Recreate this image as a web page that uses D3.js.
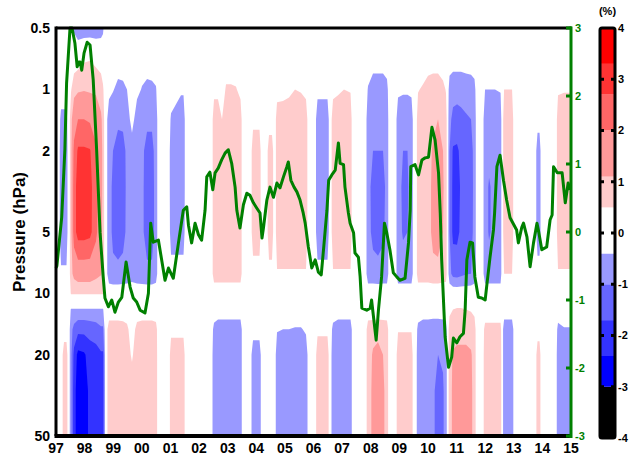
<!DOCTYPE html>
<html><head><meta charset="utf-8">
<script src="https://cdn.jsdelivr.net/npm/d3@7"></script>
<style>
body{margin:0;background:#fff}
svg{display:block}
text{font-family:"Liberation Sans",Arial,Helvetica,sans-serif;font-weight:bold}
</style>
</head><body>
<svg id="chart" width="631" height="459"></svg>
<script>
// ---------------- DATA ----------------
const yearTicks = [1997,1998,1999,2000,2001,2002,2003,2004,2005,2006,2007,2008,2009,2010,2011,2012,2013,2014,2015];
const yearLabels = ["97","98","99","00","01","02","03","04","05","06","07","08","09","10","11","12","13","14","15"];
const pressureTicks = [0.5,1,2,5,10,20,50];
const anomalyTicks = [-3,-2,-1,0,1,2,3];
const colorbarTicks = [-4,-3,-2,-1,0,1,2,3,4];

const posThresholds = [0.5,1.1,2.0,2.7,3.3];
const posColors = ["#ffcccc","#ff9999","#ff6666","#ff3333","#ff0000"];
const negThresholds = [-0.4,-1.0,-1.7,-2.4,-3.0];
const negColors = ["#9999ff","#6666ff","#3333ff","#0000ff","#000000"];

// pressure levels (hPa) of the field rows
const levels = [0.5,0.7,1,1.4,2,3,5,8,10,12,15,20,30,50];

// field columns: [time (year), values at each level (%)]
const fieldColumns = [
 [1997.000,[0,0,0,0,0,0,0,0,0,0,0,0,0,0]],
 [1997.087,[0,0,0,0,0,0,0,0,0,0,0,0,0,0]],
 [1997.175,[0,0,0,-0.6,-0.8,-0.8,-0.8,-0.3,0,0,0,0,0,0]],
 [1997.280,[0,0,0,-0.6,-0.8,-0.8,-0.8,-0.3,0,0,0.1,0.9,0.9,0.9]],
 [1997.367,[0,0,0,-0.6,-0.8,-0.8,-0.8,-0.3,0,0,0.1,0.9,0.9,0.9]],
 [1997.437,[0,0,0,0,0,0,0,0,0,0,0,0,0,0]],
 [1997.524,[0,0,0.45,0.9,0.9,0.9,0.9,0.9,0.55,-0.45,-0.8,-0.8,-0.8,-0.8]],
 [1997.629,[-0.5,0.1,0.9,1.6,2.2,2.4,2.4,1.3,0.55,-0.45,-1.2,-1.9,-2.1,-2.1]],
 [1997.769,[-0.8,0.2,1.0,2.0,2.8,3.0,3.0,1.5,0.55,-0.45,-1.5,-2.6,-2.8,-2.8]],
 [1997.979,[-0.8,0.4,1.05,2.0,2.8,3.0,3.0,1.5,0.55,-0.45,-1.5,-2.5,-2.6,-2.6]],
 [1998.188,[-0.8,0.45,1.0,1.9,2.75,2.9,2.9,1.5,0.55,-0.45,-1.4,-2.1,-2.3,-2.3]],
 [1998.398,[-0.8,0.3,0.95,1.7,2.1,2.3,2.2,1.3,0.55,-0.45,-1.3,-2.0,-2.1,-2.1]],
 [1998.573,[-0.7,0.2,0.8,1.2,1.4,1.4,1.3,1.15,0.55,-0.45,-1.1,-1.8,-1.9,-1.9]],
 [1998.643,[-0.5,0,0.6,0.9,0.9,0.9,0.9,0.9,0.55,-0.45,-1.1,-1.8,-1.9,-1.9]],
 [1998.730,[0,0,0,0,0,0,0,0,0,0,0,0,0,0]],
 [1998.852,[0,0,-0.2,-0.8,-0.8,-0.8,-0.8,-0.8,0,0,0.9,0.9,0.9,0.9]],
 [1998.992,[0,0,-0.35,-0.9,-1.0,-1.1,-1.1,-0.9,0,0,0.9,0.9,0.9,0.9]],
 [1999.167,[0,0,-0.6,-0.9,-1.2,-1.3,-1.2,-0.9,0,0,0.9,0.9,0.9,0.9]],
 [1999.342,[0,0,-0.55,-0.9,-1.15,-1.2,-1.15,-0.85,0,0,0.85,0.9,0.9,0.9]],
 [1999.482,[0,0,-0.4,-0.8,-0.9,-0.9,-0.9,-0.8,0,0,0.7,0.8,0.8,0.8]],
 [1999.656,[0,0,0,-0.1,-0.8,-0.8,-0.8,-0.7,0,0,0,0.4,0.9,0.9]],
 [1999.831,[0,0,-0.2,-0.8,-0.8,-0.8,-0.8,-0.8,0,0,0.8,0.9,0.9,0.9]],
 [2000.006,[0,0,-0.45,-0.85,-0.9,-0.9,-0.9,-0.85,0,0,0.9,0.9,0.9,0.9]],
 [2000.181,[0,0,-0.6,-0.9,-1.15,-1.2,-1.2,-0.9,0,0,0.9,0.9,0.9,0.9]],
 [2000.355,[0,0,-0.55,-0.9,-1.15,-1.2,-1.2,-0.9,0,0,0.9,0.9,0.9,0.9]],
 [2000.495,[0,0,-0.45,-0.8,-0.8,-0.8,-0.8,-0.75,0,0,0.8,0.9,0.9,0.9]],
 [2000.583,[0,0,0,0,0,0,0,0,0,0,0,0,0,0]],
 [2000.932,[0,0,0,0,0,0,0,0,0,0,0,0,0,0]],
 [2001.020,[0,0,0,-0.5,-0.8,-0.8,-0.7,-0.15,0,0,0.3,0.9,0.9,0.9]],
 [2001.194,[0,0,-0.1,-0.7,-0.8,-0.8,-0.7,-0.15,0,0,0.3,0.9,0.9,0.9]],
 [2001.369,[0,0,-0.3,-0.8,-0.8,-0.8,-0.7,-0.15,0,0,0.3,0.9,0.9,0.9]],
 [2001.457,[0,0,-0.3,-0.8,-0.8,-0.8,-0.7,-0.15,0,0,0.3,0.9,0.9,0.9]],
 [2001.544,[0,0,0,0,0,0,0,0,0,0,0,0,0,0]],
 [2002.418,[0,0,0,0,0,0,0,0,0,0,0,0,0,0]],
 [2002.523,[0,0,0.3,0.9,0.9,0.9,0.9,0.9,0,0,-0.6,-0.8,-0.8,-0.8]],
 [2002.662,[0,0,0.3,0.9,0.9,0.9,0.9,0.9,0,0,-0.8,-0.8,-0.8,-0.8]],
 [2002.802,[0,0,0,0.5,0.9,0.9,0.9,0.9,0,0,-0.8,-0.8,-0.8,-0.8]],
 [2002.942,[0,0,0.6,0.9,0.95,1.0,0.95,0.9,0,0,-0.8,-0.8,-0.8,-0.8]],
 [2003.117,[0,0,0.6,0.9,1.0,1.05,1.0,0.9,0,0,-0.8,-0.8,-0.8,-0.8]],
 [2003.291,[0,0,0.55,0.9,0.9,0.9,0.9,0.9,0,0,-0.8,-0.8,-0.8,-0.8]],
 [2003.449,[0,0,0.3,0.9,0.9,0.9,0.9,0.9,0,0,-0.8,-0.8,-0.8,-0.8]],
 [2003.536,[0,0,0,0,0,0,0,0,0,0,0,0,0,0]],
 [2003.781,[0,0,0,0,0,0,0,0,0,0,0,0,0,0]],
 [2003.886,[0,0,0,0.3,0.9,0.9,0.9,0.2,0,0,-0.1,-0.8,-0.8,-0.8]],
 [2004.113,[0,0,0,0.3,0.9,0.9,0.9,0.2,0,0,-0.1,-0.8,-0.8,-0.8]],
 [2004.200,[0,0,0,0,0,0,0,0,0,0,0,0,0,0]],
 [2004.340,[0,0,0,0,0,0,0,0,0,0,0,0,0,0]],
 [2004.445,[0,0,0,0.1,0.9,0.9,0.9,0.3,0,0,0,0,0,0]],
 [2004.550,[0,0,0,0.1,0.9,0.9,0.9,0.3,0,0,0,0,0,0]],
 [2004.637,[0,0,0,0,0,0,0,0,0,0,0,0,0,0]],
 [2004.725,[0,0,0.2,0.9,0.9,0.9,0.9,0.45,0,0,-0.35,-0.8,-0.8,-0.8]],
 [2004.934,[0,0,0.25,0.9,0.9,0.9,0.9,0.45,0,0,-0.4,-0.8,-0.8,-0.8]],
 [2005.144,[0,0,0.35,0.9,0.9,0.9,0.9,0.45,0,0,-0.4,-0.8,-0.8,-0.8]],
 [2005.354,[0,0,0.5,0.9,0.9,0.9,0.9,0.45,0,0,-0.45,-0.8,-0.8,-0.8]],
 [2005.563,[0,0,0.45,0.9,0.9,0.9,0.9,0.45,0,0,-0.45,-0.8,-0.8,-0.8]],
 [2005.738,[0,0,0.3,0.9,0.9,0.9,0.9,0.45,0,0,-0.3,-0.8,-0.8,-0.8]],
 [2005.843,[0,0,0,0,0,0,0,0,0,0,0,0,0,0]],
 [2006.035,[0,0,0,0,0,0,0,0,0,0,0,0,0,0]],
 [2006.140,[0,0,-0.2,-0.8,-0.8,-0.8,-0.8,-0.2,0,0,0.35,0.9,0.9,0.9]],
 [2006.297,[0,0,-0.2,-0.8,-0.8,-0.8,-0.8,-0.2,0,0,0.35,0.9,0.9,0.9]],
 [2006.490,[0,0,-0.2,-0.8,-0.8,-0.8,-0.8,-0.2,0,0,0.35,0.9,0.9,0.9]],
 [2006.577,[0,0,0,0,0,0,0,0,0,0,0,0,0,0]],
 [2006.682,[0,0,0.3,0.9,0.9,0.9,0.9,0.45,0,0,-0.6,-0.8,-0.8,-0.8]],
 [2006.857,[0,0,0.4,0.9,0.9,0.9,0.9,0.45,0,0,-0.8,-0.8,-0.8,-0.8]],
 [2007.066,[0,0,0.5,0.9,0.9,0.9,0.9,0.45,0,0,-0.8,-0.8,-0.8,-0.8]],
 [2007.294,[0,0,0.45,0.9,0.9,0.9,0.9,0.45,0,0,-0.8,-0.8,-0.8,-0.8]],
 [2007.381,[0,0,0,0,0,0,0,0,0,0,0,0,0,0]],
 [2007.800,[0,0,0,0,0,0,0,0,0,0,0,0,0,0]],
 [2007.905,[0,0,-0.45,-0.8,-0.8,-0.8,-0.8,-0.8,0,0,0.9,0.9,0.9,0.9]],
 [2008.080,[0,0,-0.8,-0.9,-1.0,-1.2,-1.15,-0.8,0,0,0.95,1.15,1.2,1.2]],
 [2008.255,[0,0,-0.8,-0.9,-1.0,-1.25,-1.2,-0.85,0,0,1.0,1.2,1.25,1.25]],
 [2008.430,[0,0,-0.8,-0.9,-1.0,-1.2,-1.1,-0.8,0,0,0.95,1.1,1.2,1.2]],
 [2008.569,[0,0,-0.6,-0.8,-0.8,-0.8,-0.8,-0.8,0,0,0.9,0.9,0.9,0.9]],
 [2008.657,[0,0,0,0,0,0,0,0,0,0,0,0,0,0]],
 [2008.849,[0,0,0,0,0,0,0,0,0,0,0,0,0,0]],
 [2008.954,[0,0,-0.25,-0.8,-0.8,-0.8,-0.8,-0.8,0,0,0.45,0.9,0.9,0.9]],
 [2009.129,[0,0,-0.3,-0.85,-1.0,-1.1,-1.05,-0.8,0,0,0.45,0.9,0.9,0.9]],
 [2009.286,[0,0,-0.3,-0.85,-1.0,-1.05,-1.0,-0.8,0,0,0.45,0.9,0.9,0.9]],
 [2009.426,[0,0,-0.25,-0.8,-0.8,-0.8,-0.8,-0.8,0,0,0.45,0.9,0.9,0.9]],
 [2009.513,[0,0,0,0,0,0,0,0,0,0,0,0,0,0]],
 [2009.566,[0,0,0,0,0,0,0,0,0,0,0,0,0,0]],
 [2009.653,[0,0,0.45,0.9,0.9,0.9,0.9,0.9,0,0,-0.6,-0.8,-0.8,-0.8]],
 [2009.828,[0,0,0.6,0.9,0.9,0.9,0.9,0.9,0,0,-0.8,-0.8,-0.8,-0.8]],
 [2010.003,[0,0.1,0.8,0.9,0.95,0.95,0.95,0.9,0,0,-0.8,-0.85,-0.85,-0.85]],
 [2010.177,[0,0.1,0.9,1.0,1.15,1.2,1.2,1.0,0,0,-0.85,-0.9,-0.95,-0.95]],
 [2010.352,[0,0.1,0.9,1.1,1.25,1.3,1.25,1.0,0,0,-0.85,-1.0,-1.1,-1.1]],
 [2010.527,[0,0,0.7,0.9,1.1,1.15,1.1,0.9,0,0,-0.8,-0.95,-1.05,-1.05]],
 [2010.632,[0,0,0.45,0.85,0.9,0.9,0.9,0.85,0,0,-0.7,-0.8,-0.8,-0.8]],
 [2010.684,[0,0,0,0,0,0,0,0,0,0,0,0,0,0]],
 [2010.754,[0,0,-0.7,-0.9,-1.0,-1.0,-1.0,-0.8,0,0.3,0.9,0.9,0.9,0.9]],
 [2010.876,[0,-0.05,-0.85,-1.1,-1.8,-1.9,-1.9,-1.2,0,0.5,0.9,1.15,1.2,1.2]],
 [2011.016,[0,-0.05,-0.85,-1.15,-1.85,-2.0,-1.9,-1.25,0,0.55,0.95,1.2,1.25,1.25]],
 [2011.156,[0,-0.05,-0.85,-1.1,-1.5,-1.6,-1.55,-1.15,0,0.55,0.95,1.2,1.25,1.25]],
 [2011.331,[0,0,-0.8,-1.05,-1.3,-1.35,-1.3,-1.05,0,0.5,0.95,1.2,1.25,1.25]],
 [2011.506,[0,0,-0.75,-1.0,-1.2,-1.25,-1.2,-1.0,0,0.45,0.9,1.15,1.2,1.2]],
 [2011.628,[0,0,-0.6,-0.8,-0.8,-0.8,-0.8,-0.8,0,0.3,0.85,0.9,0.9,0.9]],
 [2011.716,[0,0,0,0,0,0,0,0,0,0,0,0,0,0]],
 [2011.891,[0,0,0,0,0,0,0,0,0,0,0,0,0,0]],
 [2011.996,[0,0,-0.4,-0.8,-0.8,-0.8,-0.8,-0.8,0,0,0.75,0.9,0.9,0.9]],
 [2012.136,[0,0,-0.4,-0.8,-0.85,-1.05,-1.05,-0.8,0,0,0.75,0.9,0.9,0.9]],
 [2012.346,[0,0,-0.4,-0.8,-0.8,-0.85,-0.85,-0.8,0,0,0.75,0.9,0.9,0.9]],
 [2012.538,[0,0,-0.35,-0.8,-0.8,-0.8,-0.8,-0.8,0,0,0.75,0.9,0.9,0.9]],
 [2012.591,[0,0,0,0,0,0,0,0,0,0,0,0,0,0]],
 [2012.661,[0,0,0.5,0.9,0.9,0.9,0.9,0.5,0,0,-0.8,-0.8,-0.8,-0.8]],
 [2012.940,[0,0,0.5,0.9,0.9,0.9,0.9,0.5,0,0,-0.8,-0.8,-0.8,-0.8]],
 [2013.028,[0,0,0,0,0,0,0,0,0,0,0,0,0,0]],
 [2013.742,[0,0,0,0,0,0,0,0,0,0,0,0,0,0]],
 [2013.830,[0,0,0,-0.1,-0.8,-0.8,-0.8,-0.1,0,0,0.15,0.9,0.9,0.9]],
 [2013.900,[0,0,0,-0.1,-0.8,-0.8,-0.8,-0.1,0,0,0.15,0.9,0.9,0.9]],
 [2013.970,[0,0,0,0,0,0,0,0,0,0,0,0,0,0]],
 [2014.459,[0,0,0,0,0,0,0,0,0,0,0,0,0,0]],
 [2014.546,[0,0,0.4,0.9,0.9,0.9,0.9,0.45,0,0,-0.6,-0.8,-0.8,-0.8]],
 [2014.756,[0,0,0.45,0.9,0.9,0.9,0.9,0.45,0,0,-0.45,-0.8,-0.8,-0.8]],
 [2015.000,[0,0,0.45,0.9,0.9,0.9,0.9,0.45,0,0,-0.45,-0.8,-0.8,-0.8]]
];

// green index series: [time (year), value]
const greenSeries = [
 [1997.00,-0.53],[1997.03,-0.50],[1997.20,0.22],[1997.31,1.21],[1997.37,2.19],[1997.49,3.00],[1997.56,3.00],
 [1997.66,2.78],[1997.74,2.43],[1997.80,2.50],[1997.84,2.50],[1997.90,2.38],[1997.98,2.63],[1998.09,2.79],
 [1998.19,2.75],[1998.30,2.24],[1998.42,1.21],[1998.54,-0.01],[1998.65,-0.66],[1998.71,-0.97],[1998.83,-1.10],
 [1998.95,-1.00],[1999.06,-1.18],[1999.18,-1.03],[1999.30,-0.96],[1999.45,-0.44],[1999.59,-0.81],[1999.70,-0.97],
 [1999.82,-1.03],[1999.94,-1.15],[2000.11,-1.19],[2000.23,-0.90],[2000.31,0.13],[2000.40,-0.15],[2000.58,-0.12],
 [2000.81,-0.71],[2000.93,-0.53],[2001.10,-0.68],[2001.28,-0.16],[2001.45,0.32],[2001.57,0.37],[2001.63,0.10],
 [2001.74,-0.16],[2001.86,0.13],[2001.98,-0.04],[2002.09,-0.12],[2002.21,0.32],[2002.27,0.81],[2002.38,0.88],
 [2002.48,0.62],[2002.56,0.87],[2002.67,0.94],[2002.79,1.06],[2002.91,1.16],[2003.02,1.21],[2003.14,1.01],
 [2003.26,0.66],[2003.32,0.32],[2003.43,0.06],[2003.55,0.40],[2003.67,0.57],[2003.78,0.54],[2003.90,0.43],
 [2004.02,0.35],[2004.13,0.28],[2004.20,-0.09],[2004.25,0.06],[2004.37,0.47],[2004.48,0.66],[2004.60,0.51],
 [2004.72,0.72],[2004.83,0.65],[2004.95,0.81],[2005.07,0.96],[2005.12,1.03],[2005.21,0.76],[2005.32,0.66],
 [2005.42,0.59],[2005.53,0.47],[2005.64,0.28],[2005.71,0.13],[2005.82,-0.22],[2005.94,-0.53],[2006.06,-0.41],
 [2006.17,-0.59],[2006.27,-0.63],[2006.35,-0.26],[2006.41,0.03],[2006.47,0.32],[2006.53,0.76],[2006.64,0.84],
 [2006.76,0.91],[2006.87,1.31],[2006.93,1.01],[2007.05,0.99],[2007.10,0.66],[2007.22,0.28],[2007.28,0.13],
 [2007.40,-0.01],[2007.45,-0.31],[2007.57,-0.37],[2007.63,-0.66],[2007.69,-1.12],[2007.86,-1.15],[2007.98,-1.12],
 [2008.03,-1.00],[2008.19,-1.59],[2008.27,-1.15],[2008.38,-0.66],[2008.48,0.13],[2008.56,-0.01],[2008.67,-0.26],
 [2008.79,-0.60],[2008.91,-0.66],[2009.02,-0.71],[2009.20,-0.68],[2009.32,-0.16],[2009.38,0.32],[2009.40,0.96],
 [2009.55,0.99],[2009.67,0.84],[2009.79,1.06],[2009.90,1.09],[2010.02,1.10],[2010.14,1.54],[2010.25,1.35],
 [2010.37,0.87],[2010.43,0.28],[2010.48,-0.41],[2010.60,-1.54],[2010.72,-1.99],[2010.83,-1.84],[2010.89,-1.56],
 [2011.01,-1.63],[2011.12,-1.54],[2011.24,-1.49],[2011.30,-1.15],[2011.36,-0.41],[2011.47,-0.15],[2011.56,-0.16],
 [2011.64,-0.66],[2011.76,-0.96],[2011.88,-0.97],[2012.00,-1.00],[2012.05,-0.81],[2012.17,-0.37],[2012.29,0.03],
 [2012.33,0.28],[2012.41,0.96],[2012.52,1.13],[2012.64,0.76],[2012.75,0.47],[2012.87,0.21],[2013.10,0.03],
 [2013.16,-0.16],[2013.28,0.07],[2013.34,0.13],[2013.46,-0.07],[2013.57,-0.51],[2013.69,-0.16],[2013.81,0.13],
 [2013.86,0.03],[2013.98,-0.26],[2014.15,-0.22],[2014.27,0.18],[2014.34,0.25],[2014.39,0.96],[2014.52,0.87],
 [2014.69,0.87],[2014.80,0.43],[2014.90,0.72],[2014.97,0.62]
];

// ---------------- DRAW ----------------
const svg = d3.select("#chart");
const x = d3.scaleLinear().domain([1997,2015]).range([56,571]);
const y = d3.scaleLog().domain([0.5,50]).range([28,436]);
const yR = d3.scaleLinear().domain([-3,3]).range([436,28]);
const cb = d3.scaleLinear().domain([-4,4]).range([438,28]);
const green = "#008000";

svg.append("defs").append("clipPath").attr("id","plotclip")
  .append("rect").attr("x",x.range()[0]).attr("y",y.range()[0])
  .attr("width",x.range()[1]-x.range()[0]).attr("height",y.range()[1]-y.range()[0]);

// field contours
const nT = fieldColumns.length, nP = levels.length;
const grid = new Array(nT*nP);
fieldColumns.forEach(([t, vals], i) => vals.forEach((v, j) => { grid[j*nT + i] = v; }));
const iToT = d3.scaleLinear().domain(d3.range(nT)).range(fieldColumns.map(d => d[0])).clamp(true);
const jToLogP = d3.scaleLinear().domain(d3.range(nP)).range(levels.map(Math.log10)).clamp(true);
const proj = d3.geoTransform({point(px, py){
  this.stream.point(x(iToT(px - 0.5)), y(Math.pow(10, jToLogP(py - 0.5))));
}});
const gpath = d3.geoPath(proj);
const posC = d3.contours().size([nT,nP]).thresholds(posThresholds)(grid);
const negC = d3.contours().size([nT,nP]).thresholds(negThresholds.map(v => -v))(grid.map(v => -v));
const gField = svg.append("g").attr("clip-path","url(#plotclip)");
posC.forEach((c,k) => gField.append("path").attr("d", gpath(c)).attr("fill", posColors[k]));
negC.forEach((c,k) => gField.append("path").attr("d", gpath(c)).attr("fill", negColors[k]));

// green line
const line = d3.line().x(d => x(d[0])).y(d => yR(d[1]));
svg.append("path").datum(greenSeries).attr("d", line)
  .attr("fill","none").attr("stroke",green).attr("stroke-width",3)
  .attr("stroke-linejoin","round");

// frame
const [x0,x1] = x.range(), [yT,yB] = y.range();
svg.append("line").attr("x1",x0).attr("x2",x1).attr("y1",yT).attr("y2",yT).attr("stroke","#000").attr("stroke-width",3);
svg.append("line").attr("x1",x0-1.5).attr("x2",x1).attr("y1",yB).attr("y2",yB).attr("stroke","#000").attr("stroke-width",4);
svg.append("line").attr("x1",x0).attr("x2",x0).attr("y1",yT-1.5).attr("y2",yB).attr("stroke","#000").attr("stroke-width",3);
svg.append("line").attr("x1",x1).attr("x2",x1).attr("y1",yT-1.5).attr("y2",yB+2).attr("stroke",green).attr("stroke-width",3);

// left axis labels
svg.append("g").selectAll("text").data(pressureTicks).join("text")
  .attr("x",x0-6).attr("y",d => y(d)).attr("dy","0.35em")
  .attr("text-anchor","end").attr("font-size",14).text(d => String(d));
svg.append("text").attr("transform",`translate(25,${(yT+yB)/2}) rotate(-90)`)
  .attr("text-anchor","middle").attr("font-size",17).text("Pressure (hPa)");

// bottom labels
svg.append("g").selectAll("text").data(yearTicks).join("text")
  .attr("x",d => x(d)).attr("y",yB+17).attr("text-anchor","middle")
  .attr("font-size",14).text((d,i) => yearLabels[i]);

// right axis ticks and labels
svg.append("g").selectAll("line").data(anomalyTicks).join("line")
  .attr("x1",x1-5).attr("x2",x1+1).attr("y1",d => yR(d)).attr("y2",d => yR(d))
  .attr("stroke",green).attr("stroke-width",3);
svg.append("g").selectAll("text").data(anomalyTicks).join("text")
  .attr("x",x1+4).attr("y",d => yR(d)).attr("dy","0.35em")
  .attr("fill",green).attr("font-size",11).text(d => String(d));

// colorbar
const cbX = 600, cbW = 15;
const cbSegs = [];
const cbEdges = [-4, ...negThresholds.slice().reverse(), ...posThresholds, 4];
const cbColors = [...negColors.slice().reverse(), "#ffffff", ...posColors];
for (let i = 0; i < cbColors.length; i++) cbSegs.push({lo: cbEdges[i], hi: cbEdges[i+1], c: cbColors[i]});
const gcb = svg.append("g");
gcb.selectAll("rect.seg").data(cbSegs).join("rect").attr("class","seg")
  .attr("x",cbX).attr("width",cbW).attr("y",d => cb(d.hi)).attr("height",d => cb(d.lo)-cb(d.hi))
  .attr("fill",d => d.c);
gcb.append("rect").attr("x",cbX).attr("y",cb(4)).attr("width",cbW).attr("height",cb(-4)-cb(4))
  .attr("fill","none").attr("stroke","#000").attr("stroke-width",3).attr("rx",2);
const innerTicks = colorbarTicks.filter(d => d > -4 && d < 4);
gcb.selectAll("line.tl").data(innerTicks).join("line").attr("class","tl")
  .attr("x1",cbX).attr("x2",cbX+4).attr("y1",d => cb(d)).attr("y2",d => cb(d))
  .attr("stroke","#000").attr("stroke-width",3);
gcb.selectAll("line.tr").data(innerTicks).join("line").attr("class","tr")
  .attr("x1",cbX+cbW-4).attr("x2",cbX+cbW).attr("y1",d => cb(d)).attr("y2",d => cb(d))
  .attr("stroke","#000").attr("stroke-width",3);
gcb.selectAll("text").data(colorbarTicks).join("text")
  .attr("x",cbX+cbW+3).attr("y",d => cb(d)).attr("dy","0.35em")
  .attr("font-size",11).text(d => String(d));
svg.append("text").attr("x",cbX+cbW/2).attr("y",15).attr("text-anchor","middle")
  .attr("font-size",11).text("(%)");
</script>
</body></html>
